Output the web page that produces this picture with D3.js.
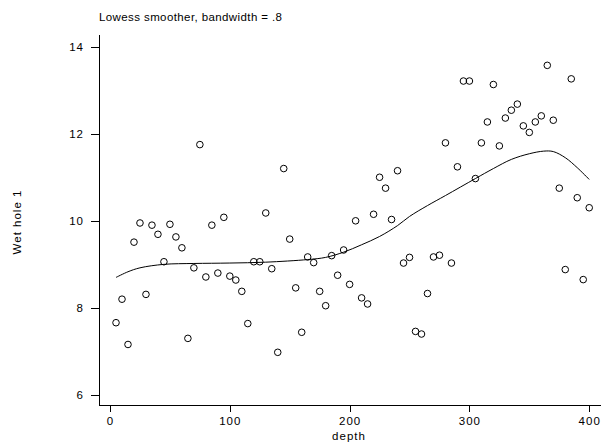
<!DOCTYPE html>
<html lang="en">
<head>
    <meta charset="UTF-8">
    <script src="https://d3js.org/d3.v7.min.js"></script>
    <title>Lowess smoother</title>
</head>
<style>
    body{
        margin: 0;
        background: #fff;
    }
    text{
        font-family: "Liberation Sans", Arial, Helvetica, sans-serif;
        fill: #000;
    }
    .axis path, .axis line{
        stroke: #000;
        stroke-width: 1;
        shape-rendering: crispEdges;
    }
    .axis text{
        font-size: 11.5px;
        letter-spacing: 1px;
    }
    circle{
        fill: none;
        stroke: #000;
        stroke-width: 1;
    }
</style>
<body>
<div id='grafico'></div>
<script>
    // depth of each observation and the measured value
    var depth = [5, 10, 15, 20, 25, 30, 35, 40, 45, 50, 55, 60, 65, 70, 75, 80, 85, 90, 95, 100,
        105, 110, 115, 120, 125, 130, 135, 140, 145, 150, 155, 160, 165, 170, 175, 180, 185, 190, 195, 200,
        205, 210, 215, 220, 225, 230, 235, 240, 245, 250, 255, 260, 265, 270, 275, 280, 285, 290, 295, 300,
        305, 310, 315, 320, 325, 330, 335, 340, 345, 350, 355, 360, 365, 370, 375, 380, 385, 390, 395, 400]
    var wethole = [7.66, 8.20, 7.16, 9.51, 9.95, 8.31, 9.90, 9.69, 9.06, 9.92, 9.63, 9.38, 7.30, 8.92, 11.75, 8.71, 9.90, 8.80, 10.08, 8.73,
        8.64, 8.38, 7.64, 9.06, 9.06, 10.18, 8.90, 6.98, 11.20, 9.58, 8.46, 7.44, 9.17, 9.04, 8.38, 8.05, 9.20, 8.75, 9.33, 8.54,
        10.00, 8.23, 8.09, 10.15, 11.00, 10.75, 10.03, 11.15, 9.03, 9.16, 7.46, 7.40, 8.33, 9.17, 9.21, 11.79, 9.03, 11.24, 13.21, 13.21,
        10.97, 11.79, 12.27, 13.13, 11.72, 12.36, 12.54, 12.68, 12.18, 12.03, 12.27, 12.41, 13.57, 12.31, 10.75, 8.88, 13.26, 10.53, 8.65, 10.30]

    // smoother
    var curveDepth = [5, 15, 25, 45, 70, 100, 130, 165, 180, 195, 210, 225, 240, 250, 265, 280, 305, 320, 335, 350, 362, 370, 380, 390, 400]
    var curveValue = [8.70, 8.83, 8.92, 9.00, 9.02, 9.03, 9.05, 9.11, 9.16, 9.28, 9.45, 9.64, 9.89, 10.10, 10.35, 10.58, 10.97, 11.20, 11.41, 11.54, 11.60, 11.59, 11.45, 11.22, 10.95]

    var xTicks = [0, 100, 200, 300, 400]
    var yTicks = [6, 8, 10, 12, 14]

    var svg = d3.select('#grafico')
        .append('svg')
        .attr('width', 601)
        .attr('height', 443)

    var xScale = d3.scaleLinear()
        .domain([-9.2, 409])
        .range([99, 600])

    var yScale = d3.scaleLinear()
        .domain([5.77, 14.29])
        .range([405, 34])

    svg.append('g')
        .attr('class', 'axis')
        .attr('transform', 'translate(99, 0)')
        .call(d3.axisLeft(yScale).tickValues(yTicks).tickSize(8).tickPadding(7).tickSizeOuter(0))

    svg.append('g')
        .attr('class', 'axis')
        .attr('transform', 'translate(0, 405)')
        .call(d3.axisBottom(xScale).tickValues(xTicks).tickSize(7).tickPadding(5).tickSizeOuter(0))

    svg.selectAll('circle')
        .data(depth)
        .enter()
        .append('circle')
        .attr('r', 3.3)
        .attr('cx', (d) => xScale(d))
        .attr('cy', (d, i) => yScale(wethole[i]))

    var linha = d3.line()
        .x((d, i) => xScale(curveDepth[i]))
        .y((d) => yScale(d))
        .curve(d3.curveCatmullRom)

    svg.append('path')
        .datum(curveValue)
        .attr('d', linha)
        .attr('fill', 'none')
        .attr('stroke', '#000')
        .attr('stroke-width', 1)

    svg.append('text')
        .attr('x', 99)
        .attr('y', 21)
        .style('font-size', '11.5px')
        .style('letter-spacing', '0.4px')
        .text('Lowess smoother, bandwidth = .8')

    svg.append('text')
        .attr('x', 349)
        .attr('y', 440)
        .attr('text-anchor', 'middle')
        .style('font-size', '11.5px')
        .style('letter-spacing', '1px')
        .text('depth')

    svg.append('text')
        .attr('transform', 'translate(21, 222) rotate(-90)')
        .attr('text-anchor', 'middle')
        .style('font-size', '11.5px')
        .style('letter-spacing', '1px')
        .text('Wet hole 1')
</script>
</html>
